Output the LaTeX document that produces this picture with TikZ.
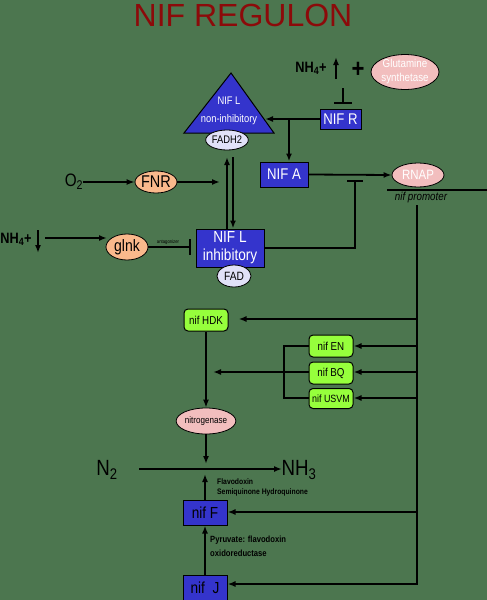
\documentclass[tikz,border=0pt]{standalone}
\usepackage{fontspec}
\setmainfont[FakeStretch=0.85]{Liberation Sans}
\newfontfamily\titlefont{Liberation Sans}
\usetikzlibrary{arrows.meta,shapes.geometric}
\definecolor{bg}{RGB}{76,118,79}
\definecolor{nifblue}{RGB}{52,52,204}
\definecolor{pinkfill}{RGB}{242,190,190}
\definecolor{peach}{RGB}{250,185,140}
\definecolor{limefill}{RGB}{150,255,60}
\definecolor{lav}{RGB}{225,225,248}
\definecolor{titlered}{RGB}{140,10,10}
\begin{document}
\begin{tikzpicture}[x=1pt,y=-1pt,
  lw/.style={line width=1.8pt},
  arr/.style={lw,-{Latex[length=8pt,width=6pt]}},
  inh/.style={lw,-{Bar[width=16pt,line width=2pt]}},
  bluebox/.style={draw=black,line width=1pt,fill=nifblue,text=white,inner sep=0pt,align=center},
  greenbox/.style={draw=black,line width=1pt,fill=limefill,rounded corners=4pt,inner sep=0pt,minimum width=44pt,minimum height=22pt,font=\fontsize{11.5}{12}\selectfont},
  oval/.style={ellipse,draw=black,line width=0.8pt,inner sep=0pt},
]
\fill[bg] (0,0) rectangle (487,600);
\useasboundingbox (0,0) rectangle (487,600);

% title
\node[font=\titlefont\fontsize{32}{36}\selectfont,text=titlered] (title) at (243,15) {NIF REGULON};

% NIF L non-inhibitory triangle
\filldraw[fill=nifblue,draw=black,line width=1pt] (231,73) -- (274,133) -- (184,133) -- cycle;
\node[text=white,font=\fontsize{11}{18}\selectfont,align=center] (nifLn) at (229,111) {NIF L\\non-inhibitory};
\coordinate (triR) at (265,119);
\node[oval,fill=lav,minimum width=42pt,minimum height=20pt,font=\fontsize{11}{12}\selectfont] (fadh) at (227,140) {FADH2};

% NH4+ up, glutamine synthetase
\node[font=\bfseries\fontsize{15}{16}\selectfont,inner sep=0pt] (nh4a) at (311,68) {NH\textsubscript{4}+};
\coordinate (upA) at (336,79);
\coordinate (upB) at (336,57);
\draw[arr] (upA) -- (upB);
\node[font=\bfseries\fontsize{26}{26}\selectfont,inner sep=0pt] (plus) at (358,70) {+};
\node[oval,fill=pinkfill,minimum width=68pt,minimum height=34pt,text=white,align=center,font=\fontsize{11.5}{14}\selectfont] (gs) at (405,72) {Glutamine\\synthetase};

% NIF R
\node[bluebox,minimum width=41pt,minimum height=20pt,font=\fontsize{15.5}{16}\selectfont] (nifR) at (340.5,119) {NIF R};
\coordinate (inhTop) at (343,88);
\coordinate (inhBot) at (343,104);
\draw[lw,-{Bar[width=18pt,line width=2pt]}] (inhTop) -- (inhBot);
\draw[arr] (nifR.west) -- (triR);

% NIF A
\node[bluebox,minimum width=48pt,minimum height=25pt,font=\fontsize{15.5}{16}\selectfont] (nifA) at (284,174.5) {NIF A};
\coordinate (br) at (289,119);
\draw[arr] (br) -- (br |- nifA.north);

% RNAP and promoter
\node[oval,fill=pinkfill,minimum width=52pt,minimum height=24pt,text=white,font=\fontsize{13.5}{14}\selectfont] (rnap) at (418,175) {RNAP};
\draw[arr] (nifA.east) -- (rnap.west);
\coordinate (promL) at (387,190);
\coordinate (promR) at (487,190);
\draw[line width=1.5pt] (promL) -- (promR);
\node[font=\itshape\fontsize{11.5}{12}\selectfont] (prom) at (421,198) {nif promoter};

% O2 -> FNR
\node[font=\fontsize{18}{18}\selectfont,inner sep=0pt] (o2) at (74,182) {O\textsubscript{2}};
\node[oval,fill=peach,minimum width=42pt,minimum height=22pt,font=\fontsize{17}{17}\selectfont] (fnr) at (156,182) {FNR};
\coordinate (fnrT) at (220,182);
\draw[arr] (o2) -- (fnr);
\draw[arr] (fnr) -- (fnrT);

% NIF L inhibitory
\node[bluebox,minimum width=68pt,minimum height=38pt,font=\fontsize{16}{18}\selectfont] (nifLi) at (230,248) {NIF L\\inhibitory};
\node[oval,fill=lav,minimum width=34pt,minimum height=22pt,font=\fontsize{12}{12}\selectfont] (fad) at (234,276) {FAD};
\coordinate (upTop) at (227,157);
\coordinate (dnTop) at (233,157);
\draw[arr] (upTop |- nifLi.north) -- (upTop);
\draw[arr] (dnTop) -- (dnTop |- nifLi.north);
\coordinate (inhA) at (355,180);
\draw[inh] (nifLi.east) -| (inhA);

% NH4+ down -> glnk
\node[font=\bfseries\fontsize{15}{16}\selectfont,inner sep=0pt] (nh4b) at (16,239) {NH\textsubscript{4}+};
\coordinate (dA) at (38,230);
\coordinate (dB) at (38,253);
\draw[arr] (dA) -- (dB);
\node[oval,fill=peach,minimum width=42pt,minimum height=26pt,font=\fontsize{16.5}{17}\selectfont] (glnk) at (127,247) {glnk};
\coordinate (nh4s) at (45,238);
\coordinate (glnkIn) at (107,238);
\draw[arr] (nh4s) -- (glnkIn);
\coordinate (glnkBar) at (191,247);
\draw[inh] (glnk.east) -- (glnkBar);
\node[font=\fontsize{5}{5}\selectfont,inner sep=0pt] (ant) at (168,242) {antagonizer};

% trunk
\coordinate (tTop) at (417,205);
\coordinate (tBot) at (417,585);
\draw[line width=2.2pt] (tTop) -- (tBot);

% nif genes
\node[greenbox] (hdk) at (206,320) {nif HDK};
\node[greenbox] (en) at (331,346) {nif EN};
\node[greenbox] (bq) at (331,373) {nif BQ};
\node[greenbox,minimum height=20pt,font=\fontsize{10.5}{12}\selectfont] (usvm) at (331,398.5) {nif USVM};
\coordinate (tHDK) at (417,319);
\coordinate (tEN) at (417,346);
\coordinate (tBQ) at (417,372);
\coordinate (tUS) at (417,398);
\draw[arr,shorten >=10pt] (tHDK) -- (hdk.east |- tHDK);
\draw[arr] (tEN) -- (en.east);
\draw[arr] (tBQ) -- (bq.east |- tBQ);
\draw[arr] (tUS) -- (usvm.east |- tUS);
\coordinate (brkT) at (284,346);
\coordinate (brkB) at (284,398);
\draw[lw] (en.west) -- (brkT) -- (brkB) -- (usvm.west |- brkB);
\coordinate (bqT) at (213,372);
\draw[arr] (bq.west |- bqT) -- (bqT);

% nitrogenase
\node[oval,fill=pinkfill,minimum width=51pt,minimum height=26pt,font=\fontsize{9.5}{10}\selectfont] (nitro) at (206,421) {nitrogenase};
\draw[arr] (hdk.south) -- (nitro.north);
\coordinate (jn) at (206,464);
\draw[arr] (nitro.south) -- (jn);

% N2 -> NH3
\node[font=\fontsize{22}{22}\selectfont,inner sep=0pt] (n2) at (107,470) {N\textsubscript{2}};
\node[font=\fontsize{22}{22}\selectfont,inner sep=0pt] (nh3) at (299,470) {NH\textsubscript{3}};
\coordinate (n2s) at (139,469);
\coordinate (nh3e) at (282,469);
\draw[arr] (n2s) -- (nh3e);
\node[anchor=west,font=\bfseries\fontsize{8}{10}\selectfont,align=left,inner sep=0pt] (flav) at (217,487) {Flavodoxin\\Semiquinone Hydroquinone};

% nif F, nif J
\node[bluebox,text=black,minimum width=44pt,minimum height=25pt,font=\fontsize{16}{16}\selectfont] (nifF) at (205,512.5) {nif F};
\coordinate (jf) at (205,474);
\draw[arr] (nifF.north) -- (jf);
\coordinate (tF) at (417,512);
\draw[arr] (tF) -- (nifF.east |- tF);
\node[anchor=west,font=\bfseries\fontsize{9}{14}\selectfont,align=left,inner sep=0pt] (pyr) at (210,546) {Pyruvate: flavodoxin\\oxidoreductase};
\node[bluebox,text=black,minimum width=44pt,minimum height=25pt,font=\fontsize{16}{16}\selectfont] (nifJ) at (205,587.5) {nif\ \ J};
\draw[arr] (nifJ.north) -- (nifF.south);
\coordinate (tJ) at (417,584);
\draw[arr] (tJ) -- (nifJ.east |- tJ);
\end{tikzpicture}
\end{document}
